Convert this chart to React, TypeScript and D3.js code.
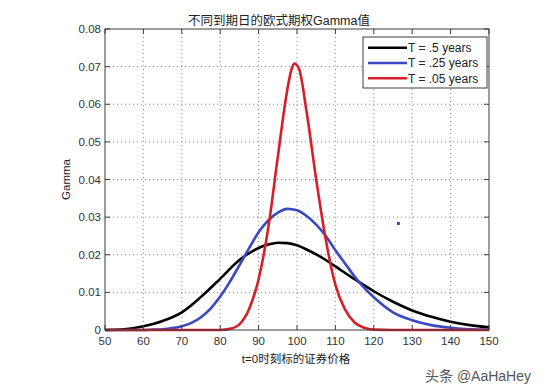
import * as d3 from "d3";

// T = .5 years
const blackX = [50, 55, 60, 65, 70, 75, 80, 85, 87.5, 90, 92.5, 95, 97.5, 100, 102.5, 105, 107.5, 110, 115, 120, 125, 130, 135, 140, 145, 150];
const blackY = [0, 0.0002, 0.001, 0.0024, 0.0047, 0.0088, 0.0136, 0.0186, 0.0204, 0.0218, 0.0227, 0.0232, 0.0231, 0.0225, 0.0214, 0.0201, 0.0186, 0.0169, 0.0135, 0.0103, 0.0075, 0.0052, 0.0035, 0.0022, 0.0013, 0.0007];

// T = .25 years
const blueX = [50, 60, 62.5, 65, 67.5, 70, 72.5, 75, 77.5, 80, 82.5, 85, 87.5, 90, 92.5, 95, 97.5, 100, 102.5, 105, 107.5, 110, 112.5, 115, 117.5, 120, 125, 130, 135, 140, 145, 150];
const blueY = [0, 0, 0.0001, 0.0002, 0.0005, 0.001, 0.0019, 0.0034, 0.0057, 0.0089, 0.0128, 0.0172, 0.0217, 0.026, 0.0291, 0.0312, 0.0322, 0.0318, 0.0303, 0.028, 0.025, 0.0212, 0.0177, 0.0142, 0.0112, 0.0087, 0.0047, 0.0026, 0.0013, 0.0006, 0.0002, 0.0001];

// T = .05 years
const redX = [50, 60, 70, 77.5, 80, 82.5, 85, 87.5, 90, 92.5, 95, 97.5, 98.5, 99.3, 100.5, 102.5, 105, 107.5, 110, 112.5, 115, 117.5, 120, 125, 130, 140, 150];
const redY = [0, 0, 0, 0, 0, 0.0003, 0.0015, 0.0055, 0.0135, 0.027, 0.046, 0.064, 0.069, 0.0708, 0.0695, 0.058, 0.04, 0.024, 0.012, 0.0055, 0.002, 0.0006, 0.0001, 0, 0, 0, 0];

// stray marker seen in the figure
const strayX = [126.4];
const strayY = [0.0283];

const xTicks = [50, 60, 70, 80, 90, 100, 110, 120, 130, 140, 150];
const yTicks = [0, 0.01, 0.02, 0.03, 0.04, 0.05, 0.06, 0.07, 0.08];
const yTickLabels = ["0", "0.01", "0.02", "0.03", "0.04", "0.05", "0.06", "0.07", "0.08"];

const legendLabels = ["T = .5 years", "T = .25 years", "T = .05 years"];
const colors = ["#000000", "#3a48c2", "#d61f2a"];

const font = "'Liberation Sans', Arial, 'Noto Sans CJK SC', sans-serif";

export default function App() {
  const width = 550;
  const height = 392;
  const left = 105, right = 489, top = 29, bottom = 330;

  const x = d3.scaleLinear().domain([50, 150]).range([left, right]);
  const y = d3.scaleLinear().domain([0, 0.08]).range([bottom, top]);

  const line = d3
    .line<[number, number]>()
    .x((d) => x(d[0]))
    .y((d) => y(d[1]))
    .curve(d3.curveMonotoneX);

  const series = [
    blackX.map((v, i) => [v, blackY[i]] as [number, number]),
    blueX.map((v, i) => [v, blueY[i]] as [number, number]),
    redX.map((v, i) => [v, redY[i]] as [number, number]),
  ];

  const tickLen = 5;
  const axisColor = "#3c3c3c";
  const labelColor = "#333";

  return (
    <svg
      width={width}
      height={height}
      style={{ position: "absolute", left: 0, top: 0, background: "#fff" }}
      fontFamily={font}
    >
      <rect x={0} y={0} width={width} height={height} fill="#fff" />

      {/* grid */}
      <g stroke="#8a8a8a" strokeWidth={1} strokeDasharray="1,3">
        {xTicks.slice(1, -1).map((t) => (
          <line key={"gx" + t} x1={x(t)} x2={x(t)} y1={top} y2={bottom} />
        ))}
        {yTicks.slice(1, -1).map((t) => (
          <line key={"gy" + t} x1={left} x2={right} y1={y(t)} y2={y(t)} />
        ))}
      </g>

      {/* curves */}
      {series.map((d, i) => (
        <path
          key={"s" + i}
          d={line(d) || ""}
          fill="none"
          stroke={colors[i]}
          strokeWidth={2.6}
          strokeLinejoin="round"
        />
      ))}

      {strayX.map((v, i) => (
        <rect key={"st" + i} x={x(v) - 1.5} y={y(strayY[i]) - 1.5} width={3} height={3} fill="#3a48c2" />
      ))}

      {/* frame and ticks */}
      <rect x={left} y={top} width={right - left} height={bottom - top} fill="none" stroke={axisColor} strokeWidth={1} />
      <g stroke={axisColor} strokeWidth={1}>
        {xTicks.map((t) => (
          <g key={"tx" + t}>
            <line x1={x(t)} x2={x(t)} y1={bottom} y2={bottom - tickLen} />
            <line x1={x(t)} x2={x(t)} y1={top} y2={top + tickLen} />
          </g>
        ))}
        {yTicks.map((t) => (
          <g key={"ty" + t}>
            <line x1={left} x2={left + tickLen} y1={y(t)} y2={y(t)} />
            <line x1={right} x2={right - tickLen} y1={y(t)} y2={y(t)} />
          </g>
        ))}
      </g>

      {/* tick labels */}
      <g fontSize={11.5} fill={labelColor}>
        {xTicks.map((t) => (
          <text key={"lx" + t} x={x(t)} y={bottom + 15} textAnchor="middle">
            {t}
          </text>
        ))}
        {yTicks.map((t, i) => (
          <text key={"ly" + t} x={left - 4} y={y(t) + 4} textAnchor="end">
            {yTickLabels[i]}
          </text>
        ))}
      </g>

      {/* legend */}
      <rect x={363} y={37} width={124} height={51} fill="#fff" stroke={axisColor} strokeWidth={1} />
      {legendLabels.map((l, i) => (
        <g key={"lg" + i}>
          <line x1={368} x2={407} y1={47.7 + i * 15.3} y2={47.7 + i * 15.3} stroke={colors[i]} strokeWidth={2.6} />
          <text x={408} y={47.7 + i * 15.3 + 4.3} fontSize={12} fill="#222">
            {l}
          </text>
        </g>
      ))}

      {/* titles */}
      <text x={279} y={25} textAnchor="middle" fontSize={12.5} fill="#222">
        不同到期日的欧式期权Gamma值
      </text>
      <text x={296} y={363} textAnchor="middle" fontSize={11.5} fill="#222">
        t=0时刻标的证券价格
      </text>
      <text
        transform={`translate(70,${(top + bottom) / 2}) rotate(-90)`}
        textAnchor="middle"
        fontSize={11.5}
        fill="#222"
      >
        Gamma
      </text>

      {/* watermark */}
      <text x={425} y={381} fontSize={14} fill="#555">
        头条 @AaHaHey
      </text>
    </svg>
  );
}
